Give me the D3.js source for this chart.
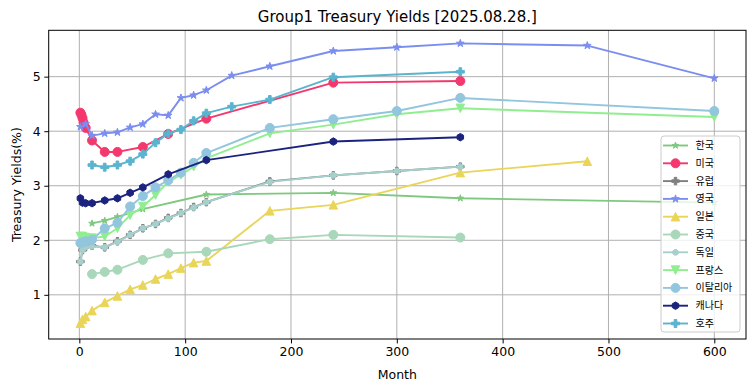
<!DOCTYPE html>
<html>
<head>
<meta charset="utf-8">
<script src="https://cdn.jsdelivr.net/npm/d3@7"></script>
<style>
  body { margin: 0; background: #fff; }
  text { font-family: "DejaVu Sans", sans-serif; }
  .kr { font-family: "Noto Sans CJK KR", "DejaVu Sans", sans-serif; }
</style>
</head>
<body>
<div id="chart"></div>
<script>
// tenors in months and yields (%) per country
const krMonths = [12, 24, 36, 60, 120, 240, 360, 600];
const krYields = [2.31, 2.36, 2.43, 2.57, 2.84, 2.87, 2.77, 2.69];

const usMonths = [1, 2, 3, 4, 6, 12, 24, 36, 60, 84, 120, 240, 360];
const usYields = [4.34, 4.30, 4.24, 4.16, 4.06, 3.83, 3.62, 3.62, 3.71, 3.95, 4.23, 4.89, 4.92];

const euMonths = [1, 3, 6, 12, 24, 36, 48, 60, 72, 84, 96, 108, 120, 180, 240, 300, 360];
const euYields = [1.61, 1.82, 1.88, 1.90, 1.87, 1.98, 2.10, 2.22, 2.30, 2.41, 2.50, 2.61, 2.70, 3.08, 3.19, 3.27, 3.35];

const ukMonths = [1, 6, 12, 24, 36, 48, 60, 72, 84, 96, 108, 120, 144, 180, 240, 300, 360, 480, 600];
const ukYields = [4.08, 4.13, 3.92, 3.96, 3.98, 4.07, 4.13, 4.31, 4.29, 4.61, 4.66, 4.75, 5.02, 5.19, 5.47, 5.54, 5.61, 5.57, 4.97];

const jpMonths = [1, 3, 6, 12, 24, 36, 48, 60, 72, 84, 96, 108, 120, 180, 240, 360, 480];
const jpYields = [0.48, 0.55, 0.60, 0.71, 0.86, 0.98, 1.10, 1.18, 1.29, 1.38, 1.49, 1.59, 1.62, 2.54, 2.65, 3.24, 3.45];

const cnMonths = [12, 24, 36, 60, 84, 120, 180, 240, 360];
const cnYields = [1.38, 1.42, 1.46, 1.64, 1.76, 1.79, 2.02, 2.10, 2.05];

const deMonths = [1, 3, 6, 12, 24, 36, 48, 60, 72, 84, 96, 108, 120, 180, 240, 300, 360];
const deYields = [1.61, 1.82, 1.88, 1.89, 1.87, 1.97, 2.10, 2.22, 2.30, 2.40, 2.50, 2.60, 2.70, 3.07, 3.19, 3.27, 3.35];

const frMonths = [1, 3, 6, 12, 24, 36, 48, 60, 72, 84, 96, 108, 120, 180, 240, 300, 360, 600];
const frYields = [2.07, 2.07, 2.05, 2.04, 2.07, 2.22, 2.46, 2.62, 2.83, 3.07, 3.20, 3.35, 3.50, 3.96, 4.12, 4.31, 4.42, 4.26];

const itMonths = [1, 3, 6, 12, 24, 36, 48, 60, 72, 84, 96, 108, 120, 180, 240, 300, 360, 600];
const itYields = [1.95, 1.96, 1.98, 2.01, 2.22, 2.32, 2.62, 2.81, 2.97, 3.10, 3.24, 3.42, 3.60, 4.06, 4.22, 4.37, 4.61, 4.37];

const caMonths = [1, 3, 6, 12, 24, 36, 48, 60, 84, 120, 240, 360];
const caYields = [2.77, 2.69, 2.68, 2.68, 2.73, 2.77, 2.87, 2.97, 3.21, 3.47, 3.81, 3.89];

const auMonths = [12, 24, 36, 48, 60, 72, 84, 96, 108, 120, 144, 180, 240, 360];
const auYields = [3.38, 3.34, 3.38, 3.45, 3.58, 3.79, 3.96, 4.03, 4.19, 4.33, 4.45, 4.58, 4.99, 5.09];

const seriesNames = ["한국", "미국", "유럽", "영국", "일본", "중국", "독일", "프랑스", "이탈리아", "캐나다", "호주"];
const xTicks = [0, 100, 200, 300, 400, 500, 600];
const yTicks = [1, 2, 3, 4, 5];

// styling per series
const colors = ["#7fc97f", "#f4386e", "#7f7f7f", "#7b8ef0", "#e9d55a", "#a8d8b9",
                "#a6d0cb", "#90ee90", "#92c5de", "#1b237f", "#5ab4cf"];
const markers = ["star", "circle", "plus", "star", "triUp", "circle",
                 "octagon", "triDown", "circle", "hexagon", "plus"];
const markerSizes = [7, 9, 7.5, 8, 8.5, 9, 6, 8.5, 9, 7.5, 8];

const series = [
  [krMonths, krYields], [usMonths, usYields], [euMonths, euYields], [ukMonths, ukYields],
  [jpMonths, jpYields], [cnMonths, cnYields], [deMonths, deYields], [frMonths, frYields],
  [itMonths, itYields], [caMonths, caYields], [auMonths, auYields]
].map(([m, v], i) => ({
  name: seriesNames[i],
  points: m.map((d, j) => ({ month: d, value: v[j] })),
  color: colors[i],
  marker: markers[i],
  size: markerSizes[i]
}));

const W = 755, H = 391;
const margin = { top: 30.3, right: 9, bottom: 52, left: 48.7 },
  width = W - margin.left - margin.right,
  height = H - margin.top - margin.bottom;

const svgRoot = d3.select("#chart")
  .append("svg")
  .attr("width", W)
  .attr("height", H);

const svg = svgRoot.append("g")
  .attr("transform", `translate(${margin.left}, ${margin.top})`);

const x = d3.scaleLinear()
  .domain([-28.95, 629.95])
  .range([0, width]);

const y = d3.scaleLinear()
  .domain([0.19, 5.85])
  .range([height, 0]);

// marker shapes; "size" is used as full marker size in px
function polygon(n, rot) {
  return {
    draw(ctx, s) {
      const r = s / 2;
      for (let i = 0; i < n; i++) {
        const a = rot + i * 2 * Math.PI / n;
        const px = r * Math.sin(a), py = -r * Math.cos(a);
        if (i === 0) ctx.moveTo(px, py); else ctx.lineTo(px, py);
      }
      ctx.closePath();
    }
  };
}
const shapes = {
  circle: { draw(ctx, s) { ctx.moveTo(s / 2, 0); ctx.arc(0, 0, s / 2, 0, 2 * Math.PI); } },
  star: {
    draw(ctx, s) {
      const r = s / 2, ri = r * 0.382;
      for (let i = 0; i < 10; i++) {
        const a = i * Math.PI / 5;
        const rr = i % 2 ? ri : r;
        const px = rr * Math.sin(a), py = -rr * Math.cos(a);
        if (i === 0) ctx.moveTo(px, py); else ctx.lineTo(px, py);
      }
      ctx.closePath();
    }
  },
  triUp: { draw(ctx, s) { const r = s / 2; ctx.moveTo(0, -r); ctx.lineTo(r, r); ctx.lineTo(-r, r); ctx.closePath(); } },
  triDown: { draw(ctx, s) { const r = s / 2; ctx.moveTo(0, r); ctx.lineTo(r, -r); ctx.lineTo(-r, -r); ctx.closePath(); } },
  plus: {
    draw(ctx, s) {
      const r = s / 2, w = s / 6;
      ctx.moveTo(-w, -r); ctx.lineTo(w, -r); ctx.lineTo(w, -w); ctx.lineTo(r, -w);
      ctx.lineTo(r, w); ctx.lineTo(w, w); ctx.lineTo(w, r); ctx.lineTo(-w, r);
      ctx.lineTo(-w, w); ctx.lineTo(-r, w); ctx.lineTo(-r, -w); ctx.lineTo(-w, -w);
      ctx.closePath();
    }
  },
  hexagon: polygon(6, 0),
  octagon: polygon(8, Math.PI / 8)
};
const symbolPath = d => d3.symbol().type(shapes[d.marker]).size(d.size)();

// grid
svg.append("g")
  .selectAll("line")
  .data(xTicks)
  .enter()
  .append("line")
  .attr("x1", d => x(d)).attr("x2", d => x(d))
  .attr("y1", 0).attr("y2", height)
  .attr("stroke", "#b0b0b0")
  .attr("stroke-width", 1);

svg.append("g")
  .selectAll("line")
  .data(yTicks)
  .enter()
  .append("line")
  .attr("x1", 0).attr("x2", width)
  .attr("y1", d => y(d)).attr("y2", d => y(d))
  .attr("stroke", "#b0b0b0")
  .attr("stroke-width", 1);

// lines + markers
const line = d3.line()
  .x(d => x(d.month))
  .y(d => y(d.value));

series.forEach(s => {
  const g = svg.append("g");
  g.append("path")
    .datum(s.points)
    .attr("d", line)
    .attr("fill", "none")
    .attr("stroke", s.color)
    .attr("stroke-width", 1.9)
    .attr("stroke-linejoin", "round");

  g.selectAll("path.m")
    .data(s.points)
    .enter()
    .append("path")
    .attr("class", "m")
    .attr("transform", d => `translate(${x(d.month)}, ${y(d.value)})`)
    .attr("d", () => symbolPath(s))
    .attr("fill", s.color)
    .attr("stroke", s.color)
    .attr("stroke-width", 1);
});

// frame
svg.append("rect")
  .attr("width", width)
  .attr("height", height)
  .attr("fill", "none")
  .attr("stroke", "#000")
  .attr("stroke-width", 1);

// axes
const xAxis = svg.append("g")
  .attr("transform", `translate(0, ${height})`)
  .call(d3.axisBottom(x).tickValues(xTicks).tickSize(4.4).tickPadding(3.5).tickFormat(d3.format("d")));

const yAxis = svg.append("g")
  .call(d3.axisLeft(y).tickValues(yTicks).tickSize(4.4).tickPadding(3.5).tickFormat(d3.format("d")));

[xAxis, yAxis].forEach(a => {
  a.select(".domain").remove();
  a.selectAll("line").attr("stroke", "#000");
  a.selectAll("text")
    .attr("fill", "#000")
    .style("font-size", "12.5px")
    .style("font-family", "DejaVu Sans");
});

// title and labels
svgRoot.append("text")
  .attr("x", margin.left + width / 2)
  .attr("y", 22)
  .attr("text-anchor", "middle")
  .style("font-size", "15px")
  .text("Group1 Treasury Yields [2025.08.28.]");

svgRoot.append("text")
  .attr("x", margin.left + width / 2)
  .attr("y", 379)
  .attr("text-anchor", "middle")
  .style("font-size", "12.5px")
  .text("Month");

svgRoot.append("text")
  .attr("transform", `translate(21, ${margin.top + height / 2}) rotate(-90)`)
  .attr("text-anchor", "middle")
  .style("font-size", "12.5px")
  .text("Treasury Yields(%)");

// legend
const legend = svgRoot.append("g").attr("transform", "translate(661, 136)");
legend.append("rect")
  .attr("width", 79)
  .attr("height", 196)
  .attr("rx", 3)
  .attr("fill", "#fff")
  .attr("fill-opacity", 0.8)
  .attr("stroke", "#cccccc")
  .attr("stroke-width", 1);

const rows = legend.selectAll("g.row")
  .data(series)
  .enter()
  .append("g")
  .attr("class", "row")
  .attr("transform", (d, i) => `translate(0, ${9.5 + i * 17.8})`);

rows.append("line")
  .attr("x1", 2).attr("x2", 27)
  .attr("stroke", d => d.color)
  .attr("stroke-width", 1.9);

rows.append("path")
  .attr("transform", "translate(14.5, 0)")
  .attr("d", d => symbolPath(d))
  .attr("fill", d => d.color)
  .attr("stroke", d => d.color)
  .attr("stroke-width", 1);

rows.append("text")
  .attr("class", "kr")
  .attr("x", 34.5)
  .attr("dy", "0.35em")
  .style("font-size", "10px")
  .text(d => d.name);
</script>
</body>
</html>
